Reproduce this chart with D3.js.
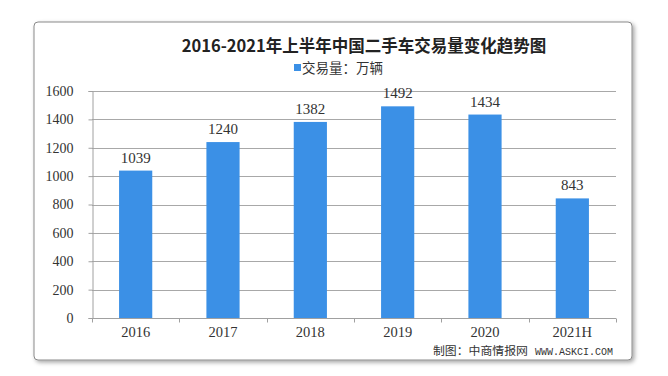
<!DOCTYPE html>
<html><head><meta charset="utf-8">
<script src="https://cdn.jsdelivr.net/npm/d3@7"></script>
<style>body{margin:0;background:#fff}</style>
</head><body>
<svg id="c" width="668" height="376"></svg>
<script>
const categories = ["2016","2017","2018","2019","2020","2021H"];
const values = [1039,1240,1382,1492,1434,843];
const yTicks = [0,200,400,600,800,1000,1200,1400,1600];
const title = "2016-2021年上半年中国二手车交易量变化趋势图";
const legendLabel = "交易量：万辆";
const creditCn = "制图：中商情报网";
const creditEn = "WWW.ASKCI.COM";

(function(){
const svg = d3.select("#c");
const serif = "'Liberation Serif','DejaVu Serif',serif";
const cjk = "'Noto Sans CJK SC','Noto Sans',sans-serif";
const barColor = "#3b90e6";

const defs = svg.append("defs");
const f = defs.append("filter").attr("id","sh").attr("x","-5%").attr("y","-5%").attr("width","110%").attr("height","115%");
f.append("feDropShadow").attr("dx",2).attr("dy",2).attr("stdDeviation",2).attr("flood-color","#000").attr("flood-opacity",0.35);
svg.append("rect").attr("x",34).attr("y",22).attr("width",598).attr("height",338).attr("rx",4)
  .attr("fill","#fff").attr("stroke","#8a8a8a").attr("stroke-width",1).attr("filter","url(#sh)");

const pl = 92, pr = 616, pt = 91, pb = 318;
const x = d3.scaleBand().domain(categories).range([pl,pr]).paddingInner(0.62).paddingOuter(0.31);
const y = d3.scaleLinear().domain([0,1600]).range([pb,pt]);

svg.append("g").selectAll("line").data(yTicks.filter(d=>d>0)).join("line")
  .attr("x1",pl).attr("x2",pr).attr("y1",d=>Math.round(y(d))+0.5).attr("y2",d=>Math.round(y(d))+0.5)
  .attr("stroke","#a8a8a8").attr("stroke-width",1);

const ya = svg.append("g").attr("transform",`translate(${pl+0.5},0)`)
  .call(d3.axisLeft(y).tickValues(yTicks).tickFormat(d3.format("d")).tickSize(4).tickPadding(15));
ya.select(".domain").attr("stroke","#a0a0a0");
ya.selectAll(".tick line").attr("stroke","#a0a0a0");
ya.selectAll("text").attr("font-family",serif).attr("font-size",14).attr("fill","#333");

svg.append("g").selectAll("rect").data(values).join("rect")
  .attr("x",(d,i)=>x(categories[i])).attr("width",x.bandwidth())
  .attr("y",d=>y(d)).attr("height",d=>pb-y(d)).attr("fill",barColor);

const xa = svg.append("g").attr("transform",`translate(0,${pb+0.5})`);
xa.append("line").attr("x1",pl).attr("x2",pr).attr("stroke","#a0a0a0");
const bounds = d3.range(categories.length+1).map(i=>pl + i*(pr-pl)/categories.length);
xa.selectAll("line.t").data(bounds).join("line").attr("class","t")
  .attr("x1",d=>Math.round(d)+0.5).attr("x2",d=>Math.round(d)+0.5).attr("y1",0).attr("y2",4).attr("stroke","#a0a0a0");
xa.selectAll("text").data(categories).join("text")
  .attr("x",d=>x(d)+x.bandwidth()/2).attr("y",18).attr("text-anchor","middle")
  .attr("font-family",serif).attr("font-size",14.5).attr("fill","#333").text(d=>d);

svg.append("g").selectAll("text").data(values).join("text")
  .attr("x",(d,i)=>x(categories[i])+x.bandwidth()/2).attr("y",d=>y(d)-8)
  .attr("text-anchor","middle").attr("font-family",serif).attr("font-size",15).attr("fill","#333").text(d=>d);

svg.append("text").attr("x",364).attr("y",52).attr("text-anchor","middle")
  .attr("font-family",cjk).attr("font-weight","bold").attr("font-size",16.5).attr("fill","#222").text(title);

svg.append("rect").attr("x",294).attr("y",64).attr("width",7).attr("height",7).attr("fill",barColor);
svg.append("text").attr("x",302).attr("y",73).attr("font-family",cjk).attr("font-size",13.5).attr("fill","#333").text(legendLabel);

svg.append("text").attr("x",433).attr("y",355).attr("textLength",95).attr("lengthAdjust","spacingAndGlyphs")
  .attr("font-family",cjk).attr("font-size",11.5).attr("fill","#333").text(creditCn);
svg.append("text").attr("x",535).attr("y",355).attr("textLength",78).attr("lengthAdjust","spacingAndGlyphs")
  .attr("font-family","'Liberation Mono','DejaVu Sans Mono',monospace").attr("font-size",11.5).attr("fill","#333").text(creditEn);
})();
</script>
</body></html>
